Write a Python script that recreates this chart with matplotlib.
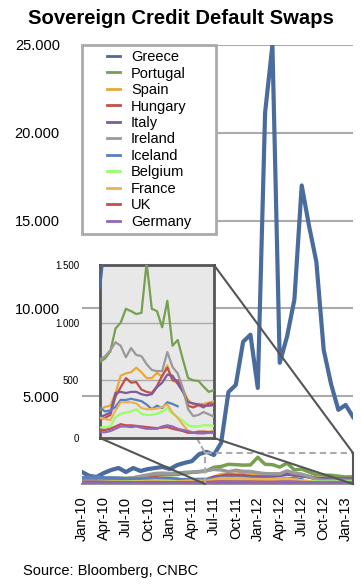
import numpy as np
import matplotlib.pyplot as plt
from matplotlib.lines import Line2D
from matplotlib.legend_handler import HandlerLine2D
from matplotlib.patches import ConnectionPatch

plt.rcParams['font.family'] = ['Liberation Sans', 'DejaVu Sans']

# ====== Data (monthly, Jan-10 .. Feb-13) ======
tick_labels = ['Jan-10', 'Apr-10', 'Jul-10', 'Oct-10', 'Jan-11', 'Apr-11', 'Jul-11',
               'Oct-11', 'Jan-12', 'Apr-12', 'Jul-12', 'Oct-12', 'Jan-13']

greece = [680, 460, 400, 630, 800, 910, 680, 910, 740, 850, 910, 970, 850, 1080, 1200,
          1300, 1700, 1830, 1650, 2340, 5240, 5640, 8100, 8500, 5470, 21150, 25000, 6900,
          8400, 10500, 17000, 14700, 12650, 7640, 5700, 4220, 4500, 3820]
portugal = [200, 180, 160, 300, 330, 320, 320, 350, 420, 450, 500, 520, 520, 540, 600,
            660, 690, 750, 950, 1000, 1120, 1100, 1075, 1085, 1520, 1120, 1100, 960, 1190,
            800, 850, 680, 520, 500, 495, 445, 400, 415]
spain = [120, 130, 120, 180, 200, 220, 200, 220, 230, 250, 300, 280, 260, 240, 230,
         245, 270, 280, 390, 540, 560, 570, 610, 570, 520, 520, 565, 530, 630,
         500, 475, 420, 330, 290, 295, 295, 305, 320]
hungary = [180, 200, 180, 250, 280, 300, 290, 300, 320, 330, 350, 320, 300, 280, 200,
           160, 175, 200, 360, 440, 520, 480, 485, 420, 400, 390, 450, 540, 610,
           500, 500, 420, 280, 265, 285, 265, 300, 295]
italy = [100, 110, 100, 150, 170, 180, 170, 190, 200, 220, 230, 220, 200, 190, 180,
         180, 200, 220, 390, 400, 390, 400, 400, 380, 370, 380, 440, 480, 550,
         540, 470, 400, 310, 300, 290, 280, 280, 285]
ireland = [180, 170, 160, 230, 260, 280, 300, 350, 440, 520, 600, 620, 600, 620, 660,
           680, 710, 760, 830, 800, 700, 780, 720, 710, 640, 590, 580, 580, 745,
           615, 560, 430, 250, 190, 200, 225, 205, 185]
iceland = [350, 380, 400, 350, 340, 330, 300, 290, 280, 290, 300, 280, 260, 250, 250,
           260, 230, 240, 270, 330, 330, 340, 330, 320, 290, 250, 280, 260, 310,
           295, 275, np.nan, np.nan, np.nan, np.nan, np.nan, np.nan, np.nan]
belgium = [60, 70, 60, 100, 110, 120, 110, 120, 130, 150, 170, 160, 150, 120, 100,
           90, 95, 100, 180, 210, 220, 230, 250, 210, 200, 200, 210, 230, 260,
           210, 180, 150, 110, 100, 100, 110, 110, 105]
france = [60, 70, 60, 80, 90, 100, 90, 100, 110, 120, 120, 110, 100, 110, 150,
          175, 165, 155, 240, 310, 310, 310, 300, 260, 250, 250, 255, 270, 290,
          220, 175, 115, 60, 50, 50, 55, 55, 60]
uk = [80, 90, 80, 90, 80, 80, 70, 70, 70, 75, 75, 70, 70, 70, 70,
      70, 70, 80, 100, 120, 110, 110, 105, 100, 95, 90, 85, 90, 95,
      80, 70, 60, 45, 45, 55, 55, 50, 55]
germany = [30, 35, 30, 40, 45, 40, 40, 45, 50, 55, 50, 50, 50, 50, 50,
           50, 50, 60, 80, 100, 100, 95, 100, 90, 80, 80, 80, 100, 110,
           100, 80, 70, 60, 45, 40, 40, 45, 45]

countries = ['Greece', 'Portugal', 'Spain', 'Hungary', 'Italy', 'Ireland',
             'Iceland', 'Belgium', 'France', 'UK', 'Germany']
series = [greece, portugal, spain, hungary, italy, ireland,
          iceland, belgium, france, uk, germany]
colors = ['#4a6b9d', '#76a050', '#e8a83c', '#c0504d', '#7d5a9c', '#999999',
          '#5b7fb8', '#99ff66', '#e9b254', '#c0504d', '#9467b5']

# zoomed window shown by the inset
ZOOM_X0, ZOOM_X1, ZOOM_TOP = 16.8, 37, 1770
INSET_XLIM = (15, 37)
INSET_YLIM = (0, 1500)


class RightLine(HandlerLine2D):
    # short legend line sitting at the right end of the handle box
    def get_xdata(self, legend, xdescent, ydescent, width, height, fontsize):
        return [-xdescent + 0.6 * width, -xdescent + width], [-xdescent + width]


x = np.arange(len(greece))

fig = plt.figure(figsize=(3.62, 5.88), dpi=100)
ax = fig.add_axes([0.2265, 0.1769, 0.7486, 0.7466])

for name, vals, c in zip(countries, series, colors):
    ax.plot(x, vals, color=c, lw=3.0 if name == 'Greece' else 2.5, zorder=3)

ax.set_xlim(0, 37)
ax.set_ylim(0, 25000)
ax.set_yticks([5000, 10000, 15000, 20000, 25000])
ax.set_yticklabels(['5.000', '10.000', '15.000', '20.000', '25.000'], fontsize=10.5)
ax.set_xticks(range(0, 37, 3))
ax.set_xticklabels(tick_labels, rotation=90, fontsize=10.5)
ax.tick_params(axis='y', length=0, pad=16)
ax.tick_params(axis='x', length=0, pad=9)
ax.grid(axis='y', color='#aaaaaa', lw=1.5)
ax.set_axisbelow(True)
for s in ['top', 'right', 'left']:
    ax.spines[s].set_visible(False)
ax.spines['bottom'].set_color('#999999')
ax.spines['bottom'].set_linewidth(1.5)

handles = [Line2D([], [], color=c, lw=2) for c in colors]
leg = ax.legend(handles, countries, loc='upper left', bbox_to_anchor=(0, 0, 0.494, 1),
                mode='expand', fontsize=10.5, handlelength=2.26, handletextpad=0.75,
                labelspacing=0.17, borderpad=0.35, borderaxespad=0, fancybox=False,
                framealpha=1, handler_map={Line2D: RightLine()})
leg.get_frame().set_edgecolor('#aaaaaa')
leg.get_frame().set_linewidth(2)

# dashed zoom window on the main chart
ax.plot([ZOOM_X0, ZOOM_X0, ZOOM_X1], [0, ZOOM_TOP, ZOOM_TOP], color='#aaaaaa', lw=1.5,
        ls=(0, (3, 2)), zorder=6, clip_on=False)
ax.plot([ZOOM_X1, ZOOM_X1], [ZOOM_TOP, 0], color='#555555', lw=1.5, zorder=6, clip_on=False)

# ====== Inset ======
axins = fig.add_axes([0.2762, 0.2551, 0.3149, 0.2942])
axins.set_facecolor('#e8e8e8')
for name, vals, c in zip(countries, series, colors):
    axins.plot(x, vals, color=c, lw=1.6, zorder=3)
axins.set_xlim(*INSET_XLIM)
axins.set_ylim(*INSET_YLIM)
axins.set_xticks([])
axins.set_yticks([0, 500, 1000, 1500])
axins.set_yticklabels(['0', '500', '1.000', '1.500'], fontsize=7)
axins.tick_params(axis='y', length=0, pad=15)
axins.grid(axis='y', color='#aaaaaa', lw=1)
axins.set_axisbelow(True)
for s in axins.spines.values():
    s.set_color('#555555')
    s.set_linewidth(2)

# connector lines between inset corners and the zoom window
links = [((0, 1), (ZOOM_X0, ZOOM_TOP), '#aaaaaa', (0, (3, 2))),
         ((1, 1), (ZOOM_X1, ZOOM_TOP), '#555555', '-'),
         ((0, 0), (ZOOM_X0, 0), '#555555', '-'),
         ((1, 0), (ZOOM_X1, 0), '#555555', '-')]
for a, b, c, ls in links:
    con = ConnectionPatch(xyA=a, coordsA=axins.transAxes, xyB=b, coordsB=ax.transData,
                          color=c, lw=1.5, ls=ls, zorder=6)
    con.set_clip_on(False)
    ax.add_artist(con)

fig.text(0.5, 1 - 19 / 588, 'Sovereign Credit Default Swaps', ha='center', va='center',
         fontsize=14.6, fontweight='bold')
fig.text(23 / 362, 1 - 571 / 588, 'Source: Bloomberg, CNBC', ha='left', va='center',
         fontsize=10.5)

fig.savefig('out.png', dpi=100)
